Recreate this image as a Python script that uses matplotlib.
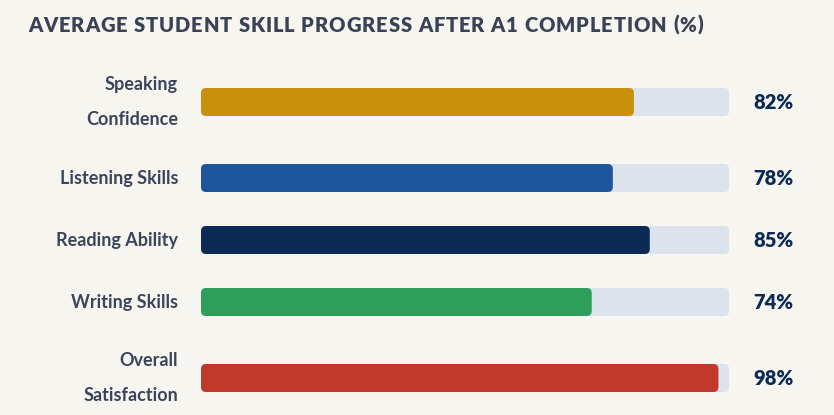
import matplotlib
matplotlib.use("Agg")
import matplotlib.pyplot as plt
from matplotlib.patches import FancyBboxPatch

categories = ["Speaking\nConfidence", "Listening Skills", "Reading Ability",
              "Writing Skills", "Overall\nSatisfaction"]
values = [82, 78, 85, 74, 98]
colors = ["#c9900c", "#1f559c", "#0c2a56", "#2e9e5b", "#c0392b"]
row_y = [102, 178, 240, 302, 378]  # row centres in pixels from top
title = "AVERAGE STUDENT SKILL PROGRESS AFTER A1 COMPLETION (%)"

W, H = 834, 415
bg = "#f7f5f0"
track = "#dde3ec"
label_color = "#3b4458"
value_color = "#0c2a56"

plt.rcParams['font.family'] = ['Lato', 'DejaVu Sans']

fig = plt.figure(figsize=(W / 100, H / 100), dpi=100, facecolor=bg)
ax = fig.add_axes([201 / W, 0, 528 / W, 1])
ax.set_xlim(0, 100)
ax.set_ylim(H, 0)
ax.axis("off")

px_x = 528 / 100          # pixels per percent
bar_h = 28
r = 5 / px_x              # 5px corner radius in x units
aspect = 5 / r

for cat, v, c, y in zip(categories, values, colors, row_y):
    ax.add_patch(FancyBboxPatch((0, y - bar_h / 2), 100, bar_h,
                                boxstyle=f"round,pad=0,rounding_size={r}",
                                mutation_aspect=aspect, fc=track, ec="none"))
    ax.add_patch(FancyBboxPatch((0, y - bar_h / 2), v, bar_h,
                                boxstyle=f"round,pad=0,rounding_size={r}",
                                mutation_aspect=aspect, fc=c, ec="none"))
    ax.text(-23 / px_x, y, cat, ha="right", va="center", fontsize=13,
            fontweight="bold", color=label_color, linespacing=2.25)
    ax.text(100 + 24 / px_x, y, f"{v}%", ha="left", va="center",
            fontsize=14.5, fontweight="heavy", color=value_color)

# title with letter spacing, drawn char by char
renderer = fig.canvas.get_renderer()
chars = []
for ch in title:
    t = fig.text(0, 1 - 25 / H, ch, ha="left", va="center", fontsize=14.5,
                 fontweight="heavy", color="#3a4256")
    chars.append((t, t.get_window_extent(renderer).width))
total = sum(w for _, w in chars)
gap = (675 - total) / (len(chars) - 1)
x = 28
for t, w in chars:
    t.set_x(x / W)
    x += w + gap

fig.savefig("out.png", dpi=100, facecolor=bg)
